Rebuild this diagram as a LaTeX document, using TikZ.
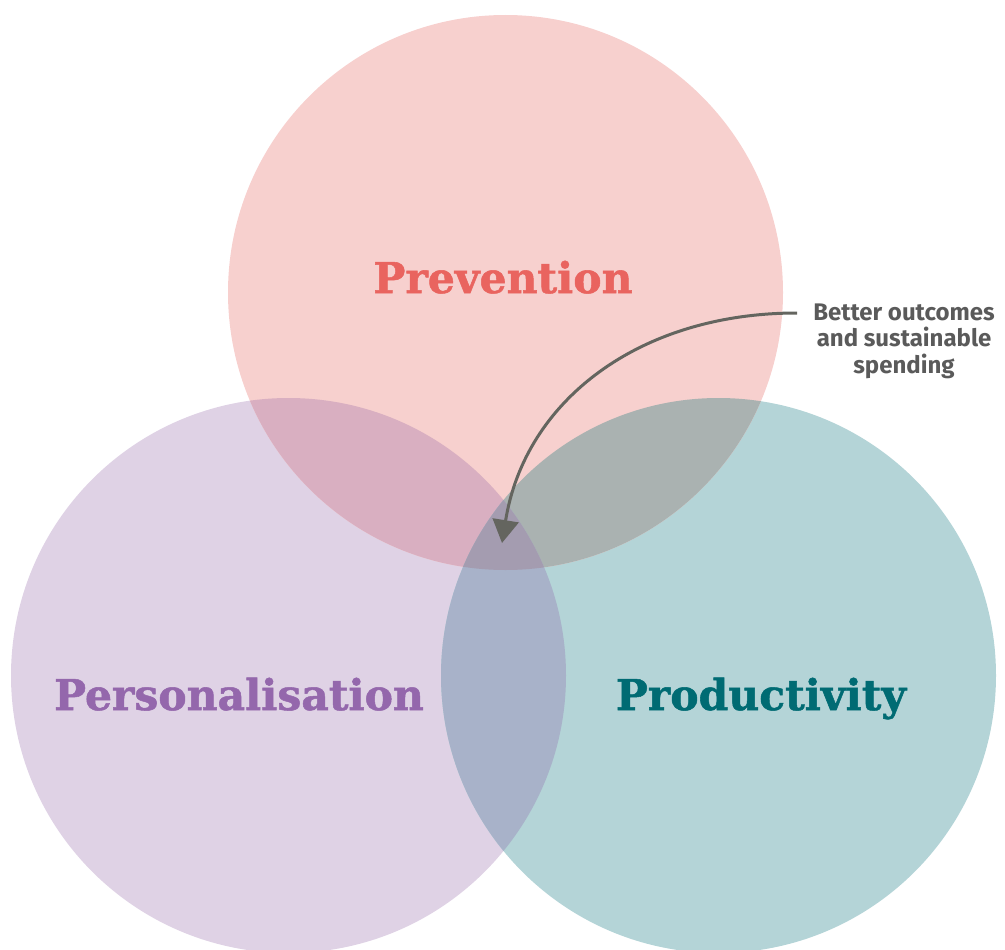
\documentclass[tikz,border=0pt]{standalone}
\usepackage{fontspec}
\usetikzlibrary{arrows.meta}
\newfontfamily\slabfont{DejaVu Serif}[BoldFeatures={FakeBold=1.2}]
\newfontfamily\labelfont{Fira Sans}

\definecolor{prevfill}{HTML}{F7D0CE}
\definecolor{persfill}{HTML}{DFD2E5}
\definecolor{prodfill}{HTML}{B4D4D7}
\definecolor{prevpers}{HTML}{D9AFC1}
\definecolor{prevprod}{HTML}{AAB2B1}
\definecolor{persprod}{HTML}{A8B2C9}
\definecolor{allthree}{HTML}{A49CB0}
\definecolor{prevtext}{HTML}{E9645F}
\definecolor{perstext}{HTML}{9467AC}
\definecolor{prodtext}{HTML}{006B73}
\definecolor{notetext}{HTML}{5A5A5A}
\definecolor{arrowcol}{HTML}{64655F}

\tikzset{
  title/.style={font=\slabfont\bfseries\fontsize{42.5}{46}\selectfont, anchor=base, inner sep=0pt},
  note/.style={font=\labelfont\bfseries\fontsize{24}{26.3}\selectfont, text=notetext, align=center, anchor=base, inner sep=0pt},
  pointer/.style={draw=arrowcol, line width=3pt, -{Triangle[length=23pt,width=26pt]}},
}

\begin{document}
\begin{tikzpicture}[x=1pt,y=-1pt]
\useasboundingbox (0,0) rectangle (1005,950);

% circle centres and radius
\def\R{277.5}
\coordinate (cprev) at (505.5,292.5);
\coordinate (cpers) at (288.5,675.5);
\coordinate (cprod) at (718.5,675.5);

% single regions
\fill[persfill] (cpers) circle (\R);
\fill[prodfill] (cprod) circle (\R);
\fill[prevfill] (cprev) circle (\R);

% pairwise overlaps
\begin{scope}
  \clip (cprev) circle (\R);
  \fill[prevpers] (cpers) circle (\R);
  \fill[prevprod] (cprod) circle (\R);
\end{scope}
\begin{scope}
  \clip (cpers) circle (\R);
  \fill[persprod] (cprod) circle (\R);
\end{scope}
% centre, where all three meet
\begin{scope}
  \clip (cprev) circle (\R);
  \clip (cpers) circle (\R);
  \fill[allthree] (cprod) circle (\R);
\end{scope}

% circle titles
\node[title, text=prevtext] (prevention) at (503,293) {Prevention};
\node[title, text=perstext] (personalisation) at (239,710) {Personalisation};
\node[title, text=prodtext] (productivity) at (761,710) {Productivity};

% callout (base anchor sits on the last line)
\node[note] (outcomes) at (904,373) {Better outcomes\\and sustainable\\spending};
\coordinate (arrowstart) at (797,313);
\coordinate (core) at (502,543);
\draw[pointer] (arrowstart) .. controls (640,313) and (525,400) .. (core);
\end{tikzpicture}
\end{document}
